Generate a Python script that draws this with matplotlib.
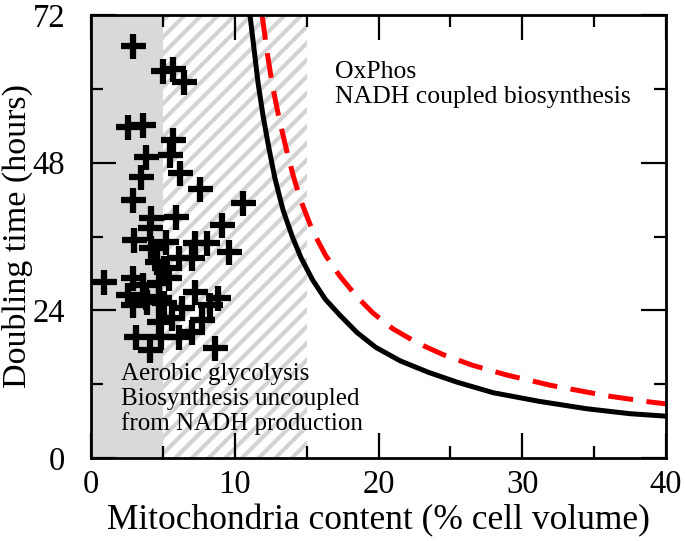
import numpy as np
import matplotlib
matplotlib.use('Agg')
import matplotlib.pyplot as plt

plt.rcParams['font.family'] = ['Liberation Serif', 'DejaVu Serif']
plt.rcParams['hatch.linewidth'] = 3.0

# cell lines: mitochondria content (% cell volume) vs doubling time (hours)
mito_pct = [2.9, 5.0, 5.7, 6.5, 2.6, 3.6, 5.7, 3.8, 5.5, 3.5, 6.2, 7.6, 2.9, 10.6,
            4.2, 5.9, 9.1, 4.1, 3.0, 4.2, 5.2, 7.2, 8.1, 9.6, 6.1, 7.0, 4.6, 5.1,
            0.9, 2.9, 3.6, 4.7, 5.4, 7.2, 8.8, 2.6, 3.8, 4.7, 2.9, 3.9, 5.1, 6.3,
            8.3, 7.7, 4.7, 5.6, 3.1, 4.9, 6.1, 7.0, 4.1, 8.6]
doubling_h = [67.0, 62.9, 63.2, 61.1, 53.8, 54.1, 51.7, 48.9, 49.2, 45.7, 46.3, 43.7,
              41.9, 41.4, 39.0, 39.2, 37.9, 37.4, 35.4, 34.1, 35.1, 34.9, 34.9, 33.5,
              32.5, 32.5, 31.9, 30.9, 28.6, 29.3, 28.1, 28.4, 29.3, 27.0, 26.0, 26.5,
              26.2, 26.0, 24.9, 25.4, 25.2, 24.4, 24.9, 22.4, 22.1, 22.8, 19.7, 19.7,
              19.7, 20.5, 17.6, 17.9]

# model curves
solid_x = [11.06, 11.34, 11.62, 11.97, 12.38, 12.8, 13.36, 14.0, 14.6, 15.4, 16.3,
           17.32, 18.5, 19.8, 21.5, 23.5, 25.5, 28.0, 31.2, 34.5, 37.5, 40.0]
solid_y = [72.0, 66.5, 61.0, 55.6, 50.3, 45.4, 40.3, 36.0, 32.6, 29.0, 25.8,
           23.2, 20.4, 18.0, 15.8, 13.9, 12.3, 10.6, 9.2, 8.0, 7.2, 6.8]
dashed_x = [11.9, 12.25, 12.6, 13.1, 13.63, 14.1, 14.6, 15.4, 16.3, 17.3, 18.5, 19.6,
            21.0, 22.7, 24.5, 26.5, 28.9, 32.0, 35.9, 38.9, 40.0]
dashed_y = [72.0, 66.0, 60.8, 55.0, 49.8, 45.6, 41.8, 37.0, 33.0, 29.6, 26.2, 23.6,
            21.0, 18.7, 16.8, 15.1, 13.5, 11.8, 10.1, 9.1, 8.8]

fig = plt.figure(figsize=(6.85, 5.41), dpi=100)
ax = fig.add_axes([91/685, 83/541, 575/685, 443/541])

# regions
ax.axvspan(0, 5, color='#d9d9d9', lw=0, zorder=0)
ax.axvspan(5, 15, facecolor='white', edgecolor='#d3d3d3', hatch='//', lw=0, zorder=0)

ax.plot(solid_x, solid_y, color='black', lw=3.6, zorder=3)
ax.plot(dashed_x, dashed_y, color='#ff0000', lw=3.6, dashes=(5, 2.7), zorder=3)
ax.plot(mito_pct, doubling_h, ls='none', marker='+', ms=18, mew=4.5, color='black', zorder=4)

ax.text(17.0, 64.6, 'OxPhos\nNADH coupled biosynthesis', fontsize=18.5,
        va='top', ha='left', linespacing=1.2)
ax.text(2.1, 15.4, 'Aerobic glycolysis\nBiosynthesis uncoupled\nfrom NADH production',
        fontsize=18, va='top', ha='left', linespacing=1.15, zorder=5)

ax.set_xlim(0, 40)
ax.set_ylim(0, 72)
ax.set_xticks([0, 10, 20, 30, 40])
ax.set_xticks([5, 15, 25, 35], minor=True)
ax.set_yticks([0, 24, 48, 72])
ax.set_yticks([12, 36, 60], minor=True)
ax.tick_params(which='both', direction='in', top=True, right=True, width=1.6, labelsize=23.5)
ax.tick_params(which='major', length=18)
ax.tick_params(which='minor', length=8.6)
ax.tick_params(axis='x', pad=8)
ax.tick_params(axis='y', pad=18.5)
for s in ax.spines.values():
    s.set_linewidth(2.0)
    s.set_zorder(6)

ax.set_xlabel('Mitochondria content (% cell volume)', fontsize=25.5)
ax.set_ylabel('Doubling time (hours)', fontsize=24.5)
ax.xaxis.set_label_coords(0.5, -0.103)
ax.yaxis.set_label_coords(-0.1, 0.5)

fig.savefig('out.png', dpi=100)
